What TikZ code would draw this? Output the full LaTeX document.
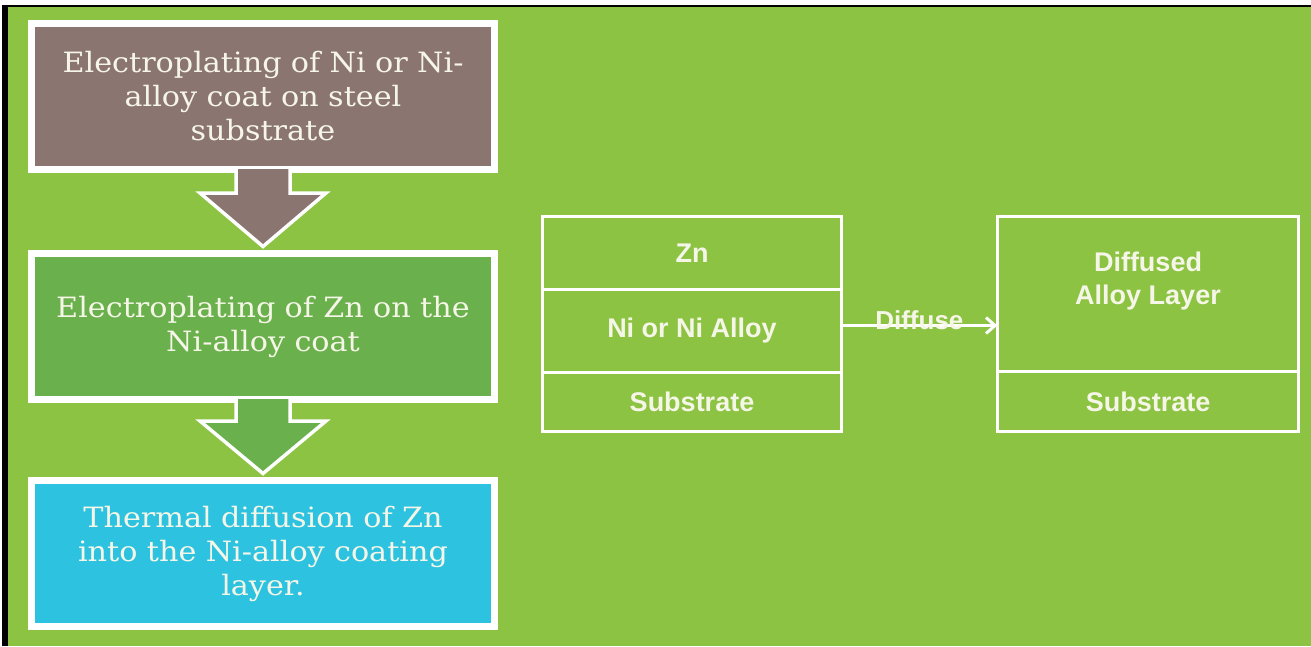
\documentclass[tikz,border=0pt]{standalone}
\usepackage{fontspec}
\newfontfamily\stepfont[FakeStretch=1.08]{DejaVu Serif}
\newfontfamily\layerfont{Liberation Sans}
\usetikzlibrary{positioning,calc,arrows.meta}

\definecolor{bggreen}{RGB}{140,195,66}
\definecolor{stepbrown}{RGB}{139,117,112}
\definecolor{stepgreen}{RGB}{106,176,76}
\definecolor{stepcyan}{RGB}{45,195,224}
\definecolor{cream}{RGB}{246,246,232}

\tikzset{
    stepbox/.style={draw=white, line width=7pt, text=cream, align=center,
        text width=450pt, minimum width=463pt, minimum height=146pt, inner sep=0pt,
        font=\stepfont\fontsize{28}{34}\selectfont},
    layer/.style={draw=white, line width=3pt, text=cream, align=center,
        minimum width=299pt, inner sep=0pt, outer sep=0pt,
        font=\layerfont\bfseries\fontsize{27}{33}\selectfont},
    blockarrow/.style={draw=white, line width=3.5pt, line join=miter},
}

\begin{document}
\begin{tikzpicture}[x=1pt, y=-1pt]
        \useasboundingbox (0,0) rectangle (1311,646);
        \fill[bggreen] (8,7) rectangle (1311,646);
        \draw[black, line width=6pt] (5,646) -- (5,6);
        \draw[black, line width=2.5pt] (2,6) -- (1311,6);

        % process steps
        \node[stepbox, fill=stepbrown] (step1) at (263,96.5) {Electroplating of Ni or Ni-\\alloy coat on steel\\substrate};
        \node[stepbox, fill=stepgreen, below=77pt of step1] (step2) {Electroplating of Zn on the\\Ni-alloy coat};
        \node[stepbox, fill=stepcyan, below=74pt of step2] (step3) {Thermal diffusion of Zn\\into the Ni-alloy coating\\layer.};

        \path[blockarrow, fill=stepbrown] ($(step1.south)+(-27,-4)$) -- ($(step1.south)+(-27,20)$) -- ($(step1.south)+(-63,20)$)
            -- ($(step2.north)+(0,-3.5)$) -- ($(step1.south)+(63,20)$) -- ($(step1.south)+(27,20)$) -- ($(step1.south)+(27,-4)$);
        \path[blockarrow, fill=stepgreen] ($(step2.south)+(-27,-4)$) -- ($(step2.south)+(-27,18)$) -- ($(step2.south)+(-63,18)$)
            -- ($(step3.north)+(0,-3.5)$) -- ($(step2.south)+(63,18)$) -- ($(step2.south)+(27,18)$) -- ($(step2.south)+(27,-4)$);

        % layers before
        \node[layer, minimum height=72.5pt] (zn) at (692,252.75) {Zn};
        \node[layer, minimum height=83pt, below=0pt of zn] (ni) {Ni or Ni Alloy};
        \node[layer, minimum height=59.5pt, below=0pt of ni] (sub1) {Substrate};

        % layers after
        \node[layer, minimum width=301.5pt, minimum height=155.5pt, text depth=31pt] (dif) at (1148,294) {Diffused\\Alloy Layer};
        \node[layer, minimum width=301.5pt, minimum height=59.5pt, below=0pt of dif] (sub2) {Substrate};

        \draw[white, line width=3pt, -{Straight Barb[length=9pt,width=16pt,line width=3pt]}]
            ([yshift=5pt]ni.east) coordinate (from) -- (from -| dif.west)
            node[midway, above=-9pt, text=cream, font=\layerfont\bfseries\fontsize{26}{30}\selectfont] (difflabel) {Diffuse};
\end{tikzpicture}
\end{document}
